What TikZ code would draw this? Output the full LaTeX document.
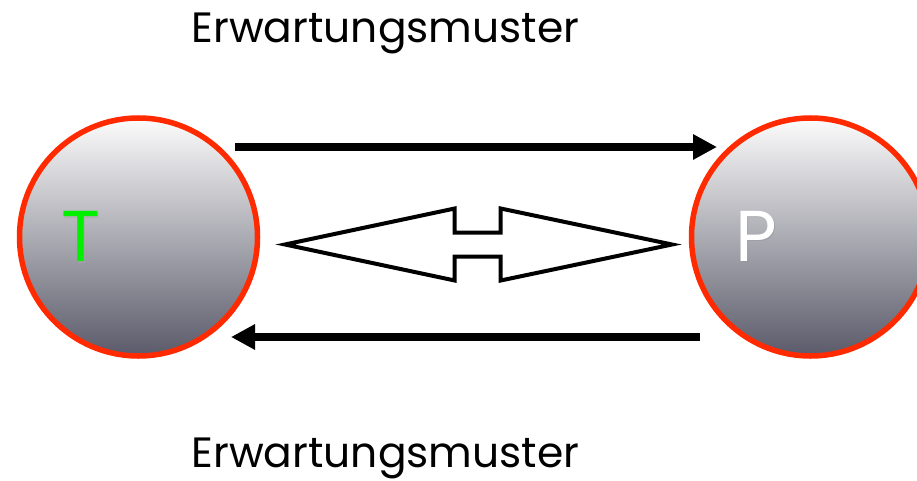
\documentclass[tikz,border=0pt]{standalone}
\usepackage{fontspec}
\setmainfont{Poppins}
\usetikzlibrary{arrows.meta}
\definecolor{ringred}{HTML}{FF2A00}
\definecolor{balltop}{HTML}{FCFCFC}
\definecolor{ballmid}{HTML}{CACACF}
\definecolor{ballbot}{HTML}{5A5A6A}
\definecolor{tgreen}{HTML}{00F000}
\tikzset{
  ball/.style={circle, minimum size=238pt, inner sep=0pt, draw=ringred, line width=5.5pt,
    top color=balltop, middle color=ballmid, bottom color=ballbot},
  letter/.style={inner sep=0pt, font=\fontsize{72}{72}\selectfont},
  caption/.style={inner sep=0pt, anchor=base, font=\fontsize{42.4}{42.4}\selectfont},
  flow/.style={line width=8pt, -{Triangle[length=24pt,width=24pt]}},
  hollow/.style={line width=4pt, draw=black, fill=white, line join=miter}
}
\begin{document}
\begin{tikzpicture}[x=1pt,y=-1pt]
\useasboundingbox (0,0) rectangle (917,481);
\clip (0,0) rectangle (917,481);
\fill[white] (0,0) rectangle (917,481);

\node[ball] (T) at (138.5,237) {};
\node[ball] (P) at (810.5,237) {};

\node[letter, text=black!35, opacity=0.5] at (82,238) {T};
\node[letter, text=tgreen] (tl) at (81,236.5) {T};
\node[letter, text=black!45, opacity=0.4] at (757.5,237.5) {P};
\node[letter, text=white] (pl) at (756.5,236) {P};

\node[caption] (top) at (385.5,43) {Erwartungsmuster};
\node[caption] (bot) at (385.5,467.7) {Erwartungsmuster};

\coordinate (a1s) at (235,147);
\coordinate (a1e) at (717,147);
\coordinate (a2s) at (700,337);
\coordinate (a2e) at (231,337);
\draw[flow] (a1s) -- (a1e);
\draw[flow] (a2s) -- (a2e);

\draw[hollow] (285,244.5) -- (454.7,208.5) -- (454.7,232.7) -- (500.7,232.7) -- (500.7,208.5)
  -- (672,244.5) -- (500.7,280.5) -- (500.7,256.5) -- (454.7,256.5) -- (454.7,280.5) -- cycle;
\end{tikzpicture}
\end{document}
